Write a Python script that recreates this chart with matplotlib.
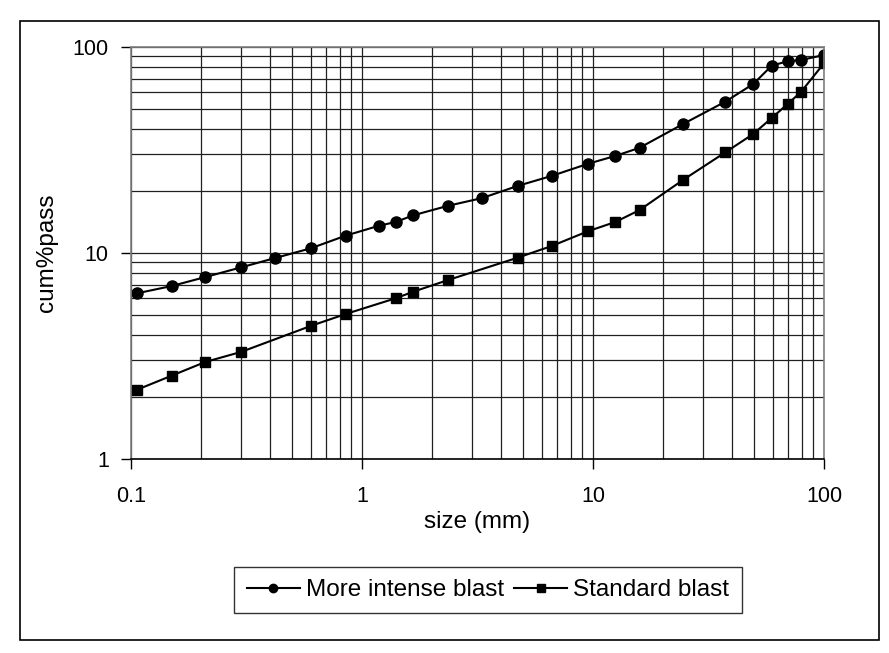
import matplotlib
matplotlib.use("Agg")
import matplotlib.pyplot as plt
from matplotlib.patches import Rectangle

plt.rcParams['font.family'] = ['Liberation Sans', 'DejaVu Sans']

# More intense blast (circles)
size_intense = [0.106, 0.15, 0.21, 0.30, 0.42, 0.60, 0.85, 1.18, 1.40, 1.67, 2.36, 3.3,
                4.72, 6.63, 9.49, 12.5, 15.9, 24.6, 37.4, 49.4, 59.4, 69.6, 79.5, 100]
pass_intense = [6.35, 6.89, 7.62, 8.49, 9.42, 10.5, 12.1, 13.5, 14.1, 15.2, 16.9, 18.4,
                21.1, 23.6, 27.0, 29.5, 32.3, 42.2, 54.1, 65.9, 80.9, 85.0, 86.2, 91.1]

# Standard blast (squares)
size_standard = [0.106, 0.15, 0.21, 0.30, 0.60, 0.85, 1.40, 1.67, 2.36, 4.72, 6.63,
                 9.49, 12.5, 15.9, 24.6, 37.4, 49.4, 59.4, 69.6, 79.5, 100]
pass_standard = [2.16, 2.53, 2.95, 3.30, 4.41, 5.04, 6.01, 6.47, 7.37, 9.46, 10.78,
                 12.7, 14.1, 16.1, 22.6, 30.7, 37.7, 45.1, 52.7, 60.3, 83.1]

fig = plt.figure(figsize=(8.89, 6.53), dpi=100)
ax = fig.add_axes([131 / 889, 1 - 458.7 / 653, 693 / 889, 412 / 653])

ax.plot(size_intense, pass_intense, color='black', lw=1.5, marker='o', ms=8,
        label='More intense blast')
ax.plot(size_standard, pass_standard, color='black', lw=1.5, marker='s', ms=7,
        label='Standard blast')

ax.set_xscale('log')
ax.set_yscale('log')
ax.set_xlim(0.1, 100)
ax.set_ylim(1, 100)

ax.set_xticks([0.1, 1, 10, 100])
ax.set_xticklabels(['0.1', '1', '10', '100'])
ax.set_yticks([1, 10, 100])
ax.set_yticklabels(['1', '10', '100'])
ax.tick_params(which='major', direction='out', length=7, width=1, color='black',
               labelsize=15.5)
ax.tick_params(axis='x', pad=13)
ax.tick_params(axis='y', pad=9)
ax.tick_params(which='minor', length=0)

ax.grid(True, which='both', color='#202020', lw=0.9)
ax.set_axisbelow(True)
for s in ax.spines.values():
    s.set_color('#808080')
    s.set_linewidth(1.2)
ax.spines['bottom'].set_color('black')

ax.set_xlabel('size (mm)', fontsize=17.5)
ax.xaxis.label.set_va('center')
ax.xaxis.set_label_coords(0.5, (458.7 - 522) / 412)
ax.set_ylabel('cum%pass', fontsize=17.5)
ax.yaxis.label.set_va('center')
ax.yaxis.set_label_coords((47 - 131) / 693, 0.5)

leg = ax.legend(loc='center', bbox_to_anchor=(488 / 889, 1 - 590 / 653),
                bbox_transform=fig.transFigure, ncol=2, fontsize=17.5, frameon=True,
                fancybox=False, edgecolor='black', handlelength=2.2,
                handletextpad=0.25, columnspacing=0.4, borderpad=0.5, markerscale=0.75)
leg.get_frame().set_linewidth(1)

fig.patches.append(Rectangle((20 / 889, 1 - 640 / 653), 859 / 889, 619 / 653,
                             transform=fig.transFigure, fill=False,
                             edgecolor='black', lw=1.2))

fig.savefig('out.png', dpi=100)
